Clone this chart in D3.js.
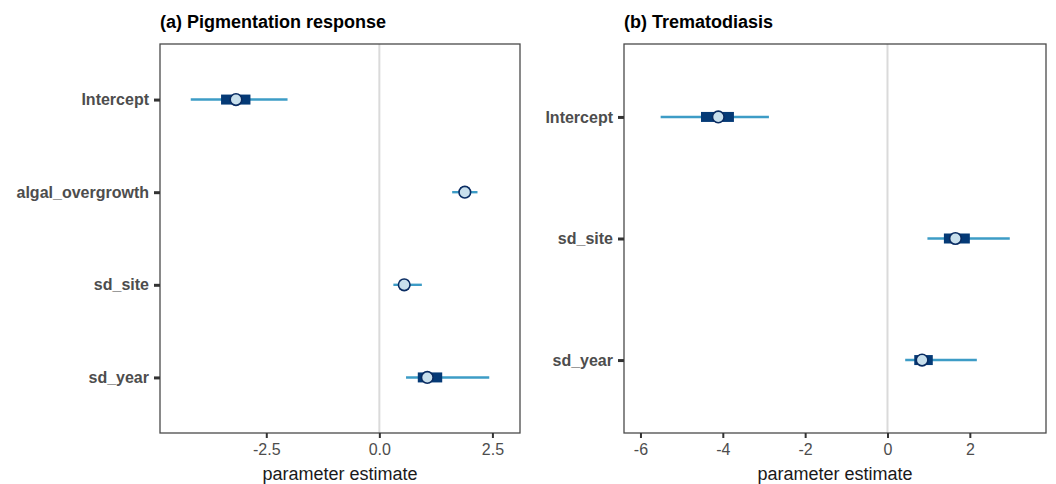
<!DOCTYPE html>
<html>
<head>
<meta charset="utf-8">
<script src="https://cdn.jsdelivr.net/npm/d3@7"></script>
<style>
  html, body { margin: 0; padding: 0; background: #fff; }
  svg { display: block; font-family: "Liberation Sans", Arial, Helvetica, sans-serif; }
</style>
</head>
<body>
<svg id="chart" width="1056" height="484"></svg>
<script>
// ---- Data ----
const pigParams   = ["Intercept", "algal_overgrowth", "sd_site", "sd_year"];
const pigEst      = [-3.17, 1.89, 0.55, 1.06];
const pigInnerLo  = [-3.50, 1.79, 0.45, 0.85];
const pigInnerHi  = [-2.85, 1.99, 0.65, 1.39];
const pigOuterLo  = [-4.17, 1.61, 0.31, 0.59];
const pigOuterHi  = [-2.03, 2.17, 0.94, 2.43];
const pigTicks    = [-2.5, 0, 2.5];
const pigDomain   = [-4.85, 3.11];

const tremParams  = ["Intercept", "sd_site", "sd_year"];
const tremEst     = [-4.11, 1.65, 0.84];
const tremInnerLo = [-4.53, 1.37, 0.65];
const tremInnerHi = [-3.73, 2.00, 1.10];
const tremOuterLo = [-5.51, 0.97, 0.43];
const tremOuterHi = [-2.88, 2.97, 2.17];
const tremTicks   = [-6, -4, -2, 0, 2];
const tremDomain  = [-6.40, 3.85];

const titles = ["(a) Pigmentation response", "(b) Trematodiasis"];
const xTitle = "parameter estimate";

// ---- Drawing ----
const svg = d3.select("#chart");
const hyphen = f => v => f(v).replace("\u2212", "-");

function panel(cfg) {
  const { left, right, top, bottom, params, est, inLo, inHi, outLo, outHi, ticks, domain, fmt, title } = cfg;
  const x = d3.scaleLinear().domain(domain).range([left, right]);
  const y = d3.scalePoint().domain(params).range([top, bottom]).padding(0.6);
  const g = svg.append("g");

  // zero reference line
  g.append("line")
    .attr("x1", x(0)).attr("x2", x(0))
    .attr("y1", top).attr("y2", bottom)
    .attr("stroke", "#dadada").attr("stroke-width", 2);

  const rows = params.map((p, i) => ({ p, est: est[i], inLo: inLo[i], inHi: inHi[i], outLo: outLo[i], outHi: outHi[i] }));

  // outer interval
  g.selectAll(".outer").data(rows).join("line")
    .attr("x1", d => x(d.outLo)).attr("x2", d => x(d.outHi))
    .attr("y1", d => y(d.p)).attr("y2", d => y(d.p))
    .attr("stroke", "#3d9cc6").attr("stroke-width", 2.4);

  // inner interval
  g.selectAll(".inner").data(rows).join("rect")
    .attr("x", d => x(d.inLo)).attr("width", d => x(d.inHi) - x(d.inLo))
    .attr("y", d => y(d.p) - 5).attr("height", 10)
    .attr("fill", "#053a76");

  // point
  g.selectAll(".pt").data(rows).join("circle")
    .attr("cx", d => x(d.est)).attr("cy", d => y(d.p)).attr("r", 5.8)
    .attr("fill", "#c8dfec").attr("stroke", "#0a2c62").attr("stroke-width", 1.6);

  // panel border
  g.append("rect")
    .attr("x", left).attr("y", top)
    .attr("width", right - left).attr("height", bottom - top)
    .attr("fill", "none").attr("stroke", "#4a4a4a").attr("stroke-width", 1.3);

  // x axis
  const xAxis = d3.axisBottom(x).tickValues(ticks).tickFormat(hyphen(fmt)).tickSize(5).tickPadding(6);
  const xa = g.append("g").attr("transform", `translate(0,${bottom})`).call(xAxis);
  xa.select(".domain").remove();
  xa.selectAll(".tick line").attr("stroke", "#333").attr("stroke-width", 2);
  xa.selectAll(".tick text")
    .attr("fill", "#4d4d4d").style("font-size", "16px")
    .attr("font-family", "Liberation Sans, Arial, sans-serif");

  // y axis
  const yAxis = d3.axisLeft(y).tickSize(6).tickPadding(5);
  const ya = g.append("g").attr("transform", `translate(${left},0)`).call(yAxis);
  ya.select(".domain").remove();
  ya.selectAll(".tick line").attr("stroke", "#333").attr("stroke-width", 3);
  ya.selectAll(".tick text")
    .attr("fill", "#4d4d4d").style("font-size", "16px").style("font-weight", "bold")
    .attr("font-family", "Liberation Sans, Arial, sans-serif");

  // x title
  g.append("text")
    .attr("x", (left + right) / 2).attr("y", 480)
    .attr("text-anchor", "middle").attr("fill", "#1a1a1a")
    .style("font-size", "18px").text(xTitle);

  // panel title
  g.append("text")
    .attr("x", left).attr("y", 28)
    .attr("fill", "#000").style("font-size", "18px").style("font-weight", "bold")
    .text(title);
}

panel({
  left: 160, right: 520, top: 44, bottom: 433,
  params: pigParams, est: pigEst, inLo: pigInnerLo, inHi: pigInnerHi, outLo: pigOuterLo, outHi: pigOuterHi,
  ticks: pigTicks, domain: pigDomain, fmt: d3.format(".1f"), title: titles[0]
});

panel({
  left: 624, right: 1046, top: 44, bottom: 433,
  params: tremParams, est: tremEst, inLo: tremInnerLo, inHi: tremInnerHi, outLo: tremOuterLo, outHi: tremOuterHi,
  ticks: tremTicks, domain: tremDomain, fmt: d3.format("d"), title: titles[1]
});
</script>
</body>
</html>
